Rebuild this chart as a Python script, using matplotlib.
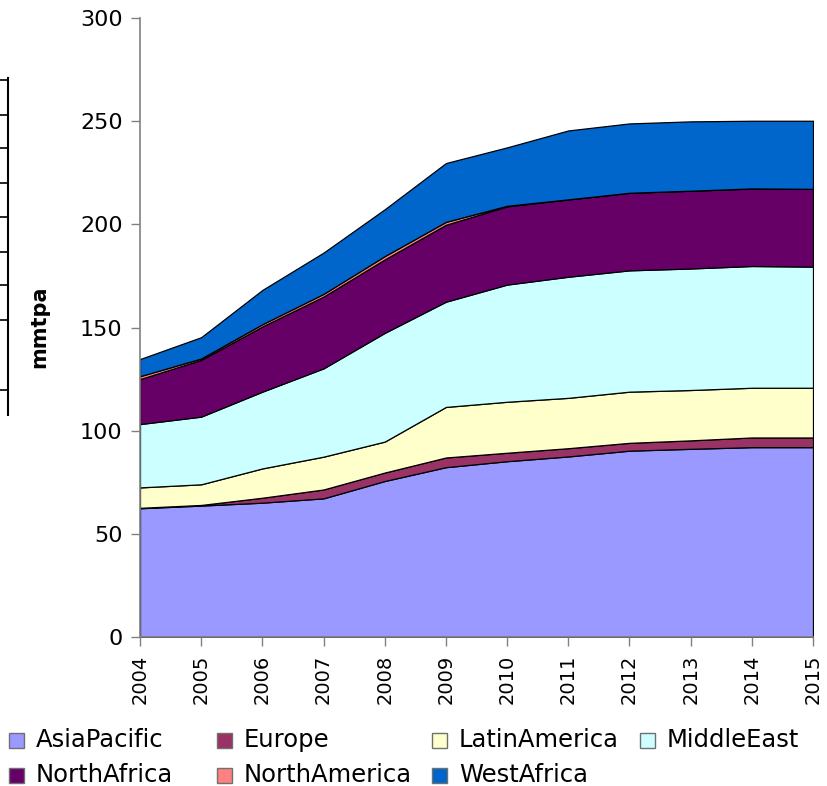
import matplotlib
matplotlib.use("Agg")
import matplotlib.pyplot as plt
from matplotlib.patches import Rectangle
from matplotlib.lines import Line2D

plt.rcParams['font.family'] = ['DejaVu Sans']

years = [2004, 2005, 2006, 2007, 2008, 2009, 2010, 2011, 2012, 2013, 2014, 2015]
series_names = ["AsiaPacific", "Europe", "LatinAmerica", "MiddleEast",
                "NorthAfrica", "NorthAmerica", "WestAfrica"]
asia_pacific = [62.4, 63.7, 65.1, 67.2, 75.6, 82.3, 85.2, 87.5, 90.3, 91.2, 92.0, 92.0]
europe = [0.2, 0.3, 2.4, 4.3, 4.1, 4.7, 4.1, 4.0, 3.8, 4.1, 4.7, 4.7]
latin_america = [9.9, 10.0, 14.2, 15.9, 15.0, 24.5, 24.7, 24.4, 24.8, 24.4, 24.1, 24.1]
middle_east = [30.7, 32.8, 37.2, 42.8, 52.7, 51.0, 56.8, 58.7, 58.8, 58.9, 59.0, 58.7]
north_africa = [21.8, 27.5, 31.6, 34.8, 35.6, 37.3, 37.9, 37.5, 37.6, 37.7, 37.6, 37.7]
north_america = [1.4, 0.7, 1.1, 1.3, 1.6, 1.4, 0.3, 0.0, 0.0, 0.0, 0.0, 0.0]
west_africa = [8.3, 10.3, 16.6, 20.0, 22.7, 28.5, 28.3, 33.4, 33.6, 33.6, 32.8, 33.0]
colors = ["#9999FF", "#993366", "#FFFFCC", "#CCFFFF", "#660066", "#FF8080", "#0066CC"]
yticks = [0, 50, 100, 150, 200, 250, 300]

W, H = 828, 786
fig = plt.figure(figsize=(W / 100, H / 100), dpi=100)
ax = fig.add_axes([140 / W, 1 - 637 / H, (813 - 140) / W, (637 - 18) / H])

ax.stackplot(years, asia_pacific, europe, latin_america, middle_east,
             north_africa, north_america, west_africa,
             colors=colors, edgecolor="black", linewidth=0.9)

ax.set_xlim(years[0], years[-1])
ax.set_ylim(0, 300)
ax.set_yticks(yticks)
ax.set_xticks(years)
ax.set_xticklabels([str(y) for y in years], rotation=90)
ax.tick_params(axis='both', length=6.5, width=1, color="#808080", direction='out')
ax.tick_params(axis='x', labelsize=14, pad=6)
ax.tick_params(axis='y', labelsize=16, pad=6)
for s in ['top', 'right']:
    ax.spines[s].set_visible(False)
for s in ['left', 'bottom']:
    ax.spines[s].set_color("#808080")
    ax.spines[s].set_linewidth(1.2)

fig.text(39 / W, 1 - 327 / H, "mmtpa", rotation=90, fontsize=15,
         fontweight='bold', ha='center', va='center')

# legend drawn manually
legend_pos = [(9, 740), (217, 740), (432, 740), (640, 740),
              (9, 775), (217, 775), (432, 775)]
for (px, py), name, c in zip(legend_pos, series_names, colors):
    fig.patches.append(Rectangle((px / W, 1 - (py + 7.5) / H), 15 / W, 15 / H,
                                 transform=fig.transFigure, facecolor=c,
                                 edgecolor="#707070", linewidth=1))
    fig.text((px + 27) / W, 1 - py / H, name, fontsize=17.5,
             ha='left', va='center')

# fragment of neighbouring frame at the left edge
fig.lines.append(Line2D([8 / W, 8 / W], [1 - 78 / H, 1 - 415 / H],
                        transform=fig.transFigure, color="black", lw=1.5))
for yy in [80, 115, 148, 183, 217, 252, 285, 320, 390]:
    fig.lines.append(Line2D([0, 8 / W], [1 - yy / H, 1 - yy / H],
                            transform=fig.transFigure, color="black", lw=1.2))

fig.savefig("out.png", dpi=100)
